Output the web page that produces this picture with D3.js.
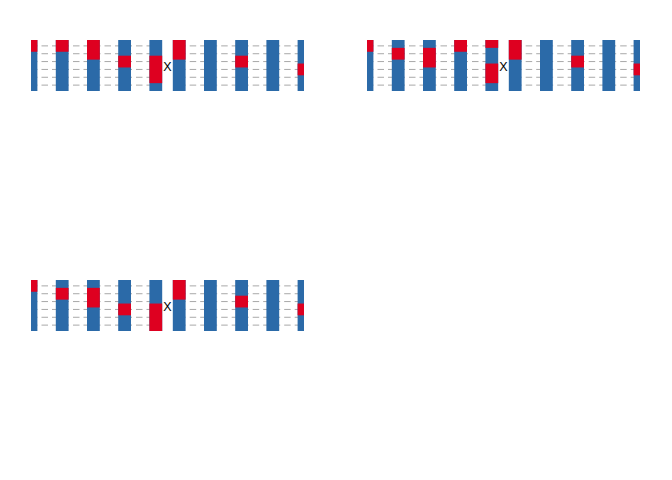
<!DOCTYPE html>
<html>
<head>
<meta charset="utf-8">
<script src="https://cdn.jsdelivr.net/npm/d3@7"></script>
<style>
  html, body { margin: 0; padding: 0; background: #ffffff; }
  svg { display: block; }
</style>
</head>
<body>
<svg id="chart" width="672" height="480"></svg>
<script>
// ---- data ----
const positions = [1, 2, 3, 4, 5, 5.75, 6.75, 7.75, 8.75, 9.75];
const gridLevels = [1, 2, 3, 4, 5, 6];
const lineSpans = [[1, 5], [5.75, 9.75]];
const xDomain = [1, 9.75];
const yDomain = [0.25, 6.75];

// red intervals (in y units) for each bar, per panel; remainder is blue
const redPanel1 = [[[0.25, 1.75]], [[0.25, 1.75]], [[0.25, 2.75]], [[2.25, 3.75]], [[2.25, 5.75]],
                   [[0.25, 2.75]], [], [[2.25, 3.75]], [], [[3.25, 4.75]]];
const redPanel2 = [[[0.25, 1.75]], [[1.25, 2.75]], [[1.25, 3.75]], [[0.25, 1.75]], [[0.25, 1.25], [3.25, 5.75]],
                   [[0.25, 2.75]], [], [[2.25, 3.75]], [], [[3.25, 4.75]]];
const redPanel3 = [[[0.25, 1.75]], [[1.25, 2.75]], [[1.25, 3.75]], [[3.25, 4.75]], [[3.25, 6.75]],
                   [[0.25, 2.75]], [], [[2.25, 3.75]], [], [[3.25, 4.75]]];

const labelText = "X";
const labelX = 5.375;
const labelY = 3.75;

// ---- layout ----
const panels = [
  { red: redPanel1, col: 0, row: 0 },
  { red: redPanel2, col: 1, row: 0 },
  { red: redPanel3, col: 0, row: 1 }
];
const cellW = 336, cellH = 240;
const panelLeft = 31, panelTop = 40, pw = 273, ph = 51;
const barW = 0.41;
const blue = "#2b6aa8", red = "#de0020";

const svg = d3.select("#chart");
const x = d3.scaleLinear().domain(xDomain).range([0, pw]);
const y = d3.scaleLinear().domain(yDomain).range([0, ph]);
const bw = x(xDomain[0] + barW) - x(xDomain[0]);

panels.forEach((p, i) => {
  const g = svg.append("g")
    .attr("transform", `translate(${panelLeft + p.col * cellW},${panelTop + p.row * cellH})`);
  const clipId = "clip" + i;
  g.append("clipPath").attr("id", clipId)
    .append("rect").attr("x", 0).attr("y", 0).attr("width", pw).attr("height", ph);
  const inner = g.append("g").attr("clip-path", `url(#${clipId})`);

  // dashed guide lines
  lineSpans.forEach(span => {
    inner.selectAll(null).data(gridLevels).enter().append("line")
      .attr("x1", x(span[0])).attr("x2", x(span[1]))
      .attr("y1", d => y(d)).attr("y2", d => y(d))
      .attr("stroke", "#a8a8a8").attr("stroke-width", 1)
      .attr("stroke-dasharray", "6.5,4");
  });

  // blue bars (full height)
  inner.selectAll(null).data(positions).enter().append("rect")
    .attr("x", d => x(d) - bw / 2).attr("width", bw)
    .attr("y", y(yDomain[0])).attr("height", y(yDomain[1]) - y(yDomain[0]))
    .attr("fill", blue);

  // red segments
  const segs = [];
  p.red.forEach((list, j) => list.forEach(s => segs.push({ pos: positions[j], a: s[0], b: s[1] })));
  inner.selectAll(null).data(segs).enter().append("rect")
    .attr("x", d => x(d.pos) - bw / 2).attr("width", bw)
    .attr("y", d => y(d.a)).attr("height", d => y(d.b) - y(d.a))
    .attr("fill", red);

  // label
  g.append("text")
    .attr("x", x(labelX)).attr("y", y(labelY))
    .attr("text-anchor", "middle").attr("dominant-baseline", "central")
    .attr("font-family", "Liberation Sans, Arial, sans-serif")
    .attr("font-size", 12.5).attr("fill", "#000")
    .text(labelText);
});
</script>
</body>
</html>
